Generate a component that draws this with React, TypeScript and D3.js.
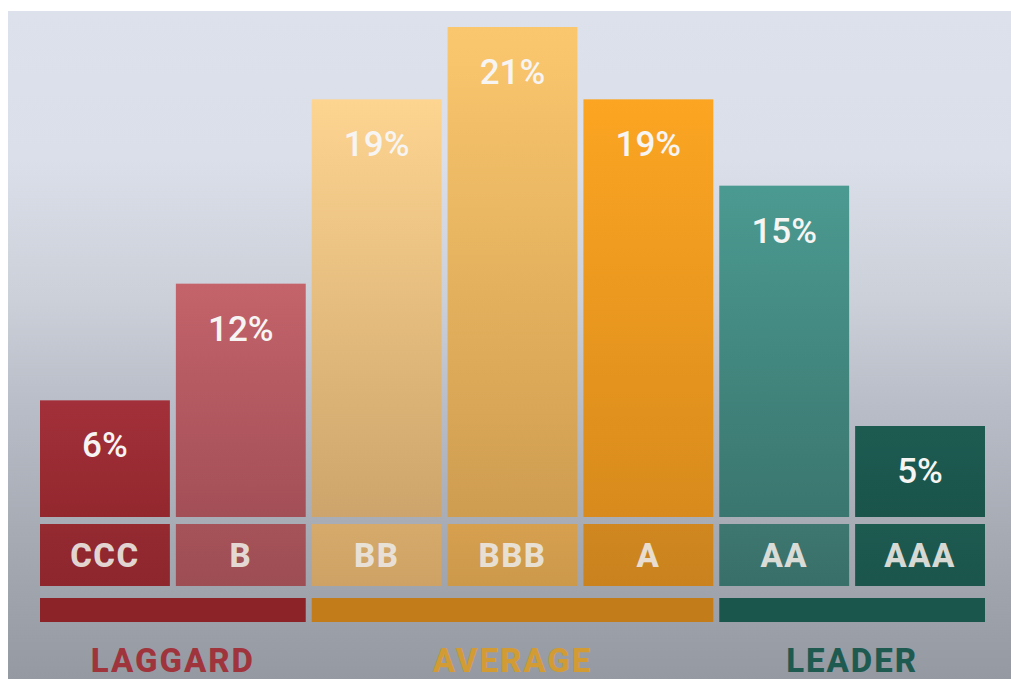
import React from "react";
import * as d3 from "d3";

// rating categories, labels shown on bars, and bar levels as drawn in the picture
const ratings = ["CCC", "B", "BB", "BBB", "A", "AA", "AAA"];
const shareLabels = ["6%", "12%", "19%", "21%", "19%", "15%", "5%"];
const barLevels = [5.0, 10.0, 17.9, 21, 17.9, 14.2, 3.9];
const groups = ["LAGGARD", "AVERAGE", "LEADER"];
const groupOf = ["LAGGARD", "LAGGARD", "AVERAGE", "AVERAGE", "AVERAGE", "LEADER", "LEADER"];

// [bar top, bar bottom, label cell top, label cell bottom]
const barColors: Record<string, string[]> = {
  CCC: ["#a2303a", "#93272e", "#952a31", "#8d262d"],
  B: ["#c4636a", "#a34f57", "#a65259", "#9d4d54"],
  BB: ["#fdd490", "#cda56c", "#d6aa6b", "#cda264"],
  BBB: ["#fbc76e", "#cf9d50", "#d6a04f", "#cc984a"],
  A: ["#fca522", "#d88b1c", "#d08720", "#c9821e"],
  AA: ["#4b9a91", "#3a766f", "#3e7670", "#386f69"],
  AAA: ["#1d5b51", "#1a544b", "#1d5a50", "#1b554c"],
};
const groupColors: Record<string, string> = {
  LAGGARD: "#8b2329",
  AVERAGE: "#c27c1a",
  LEADER: "#1b564c",
};
const groupTextColors: Record<string, string> = {
  LAGGARD: "#a0343c",
  AVERAGE: "#d39b33",
  LEADER: "#1f5a50",
};

const W = 1011;
const H = 679;

export default function App() {
  const x = d3.scaleBand<string>().domain(ratings).range([40, 985]).paddingInner(0.044).paddingOuter(0);
  const y = d3.scaleLinear().domain([0, 21]).range([517, 27]);
  const labelTop = 524;
  const labelBottom = 586;
  const groupTop = 598;
  const groupBottom = 622;
  const font = "Roboto, 'Noto Sans', sans-serif";

  const groupSpan = groups.map((g) => {
    const members = ratings.filter((_, i) => groupOf[i] === g);
    const x0 = x(members[0]) as number;
    const x1 = (x(members[members.length - 1]) as number) + x.bandwidth();
    return { g, x0, x1 };
  });

  return (
    <svg width={W} height={H} style={{ position: "absolute", left: 0, top: 0 }}>
      <defs>
        <linearGradient id="bg" gradientUnits="userSpaceOnUse" x1="0" y1="11" x2="0" y2="679">
          <stop offset="0" stopColor="#dde1ec" />
          <stop offset="0.22" stopColor="#dbdfe9" />
          <stop offset="0.43" stopColor="#cbd0d9" />
          <stop offset="0.6" stopColor="#b8bcc6" />
          <stop offset="0.8" stopColor="#a5a9b2" />
          <stop offset="1" stopColor="#959aa2" />
        </linearGradient>
        {ratings.map((r) => (
          <React.Fragment key={r}>
            <linearGradient id={`bar-${r}`} x1="0" y1="0" x2="0" y2="1">
              <stop offset="0" stopColor={barColors[r][0]} />
              <stop offset="1" stopColor={barColors[r][1]} />
            </linearGradient>
            <linearGradient id={`lab-${r}`} x1="0" y1="0" x2="0" y2="1">
              <stop offset="0" stopColor={barColors[r][2]} />
              <stop offset="1" stopColor={barColors[r][3]} />
            </linearGradient>
          </React.Fragment>
        ))}
      </defs>
      <rect x={0} y={0} width={W} height={H} fill="#ffffff" />
      <rect x={8} y={11} width={W - 8} height={H - 11} fill="url(#bg)" />

      {ratings.map((r, i) => {
        const bx = x(r) as number;
        const top = y(barLevels[i]);
        return (
          <g key={r}>
            <rect x={bx} y={top} width={x.bandwidth()} height={y(0) - top} fill={`url(#bar-${r})`} />
            <text
              x={bx + x.bandwidth() / 2}
              y={top + 57}
              textAnchor="middle"
              fontFamily={font}
              fontWeight={500}
              fontSize={35}
              fill="#f7f5f3"
            >
              {shareLabels[i]}
            </text>
            <rect x={bx} y={labelTop} width={x.bandwidth()} height={labelBottom - labelTop} fill={`url(#lab-${r})`} />
            <text
              x={bx + x.bandwidth() / 2}
              y={567}
              textAnchor="middle"
              fontFamily={font}
              fontWeight={800}
              fontSize={33}
              letterSpacing={1.5}
              fill="#ebe7e2"
              fillOpacity={0.92}
            >
              {r}
            </text>
          </g>
        );
      })}

      {groupSpan.map(({ g, x0, x1 }) => (
        <g key={g}>
          <rect x={x0} y={groupTop} width={x1 - x0} height={groupBottom - groupTop} fill={groupColors[g]} />
          <text
            x={(x0 + x1) / 2}
            y={672}
            textAnchor="middle"
            fontFamily={font}
            fontWeight={800}
            fontSize={33}
            letterSpacing={2}
            fill={groupTextColors[g]}
          >
            {g}
          </text>
        </g>
      ))}
    </svg>
  );
}
